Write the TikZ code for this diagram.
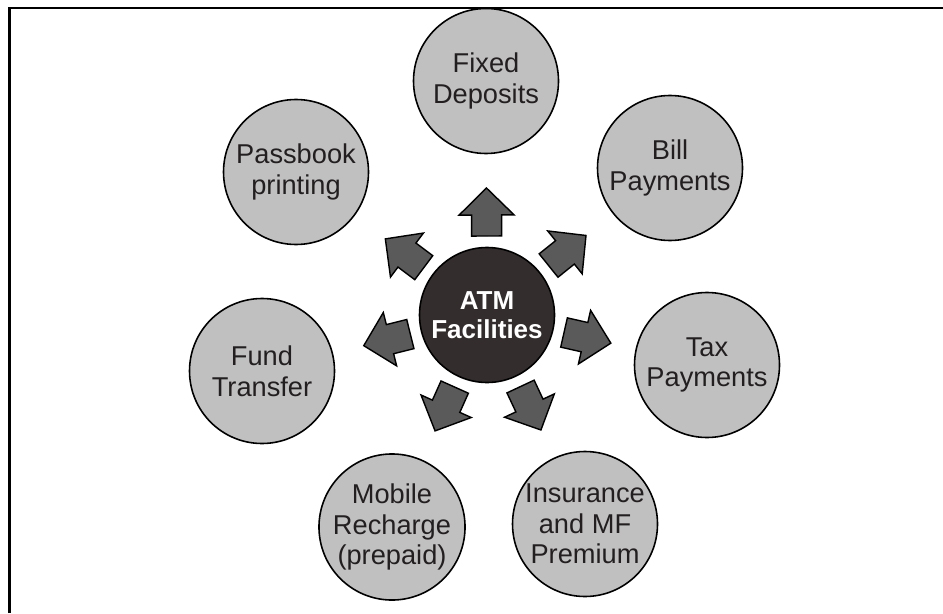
\documentclass[tikz,border=0pt]{standalone}
\usepackage{fontspec}
\setmainfont{Liberation Sans}
\usepackage{xcolor}
\usetikzlibrary{calc}
\definecolor{facilitygray}{HTML}{C0C0C0}
\definecolor{hubgray}{HTML}{332E2D}
\definecolor{pointergray}{HTML}{5A5A5A}
\definecolor{inkgray}{HTML}{231F20}
\tikzset{>=latex}
\tikzset{
  facility/.style={circle,draw=black,line width=0.9pt,fill=facilitygray,minimum size=2.9cm,inner sep=0pt,align=center,text=inkgray,font=\fontsize{15.5}{17.5}\selectfont},
  hub/.style={circle,draw=black,line width=0.9pt,fill=hubgray,minimum size=2.7cm,inner sep=0pt,align=center,text=white,font=\fontsize{14.8}{16.5}\selectfont\bfseries},
  pointer/.style={draw=black,line width=0.8pt,fill=pointergray,line join=miter},
  pics/blockarrow/.style={code={
    \draw[pointer] (0,-0.3) -- (0.42,-0.3) -- (0.42,-0.55) -- (0.96,0)
      -- (0.42,0.55) -- (0.42,0.3) -- (0,0.3) -- cycle;
  }}
}

\begin{document}
\begin{tikzpicture}
  \useasboundingbox (0,0) rectangle (18.86,12.26);

  % Frame
  \draw[line width=1.2pt] (0.19,0) -- (0.19,12.10) -- (3.76,12.10);
  \draw[line width=0.6pt] (3.76,12.10) -- (15.6,12.10);
  \draw[line width=1.2pt] (15.6,12.10) -- (18.86,12.10);

  % Hub
  \node[hub] (atm) at (9.74,5.96) {ATM\\Facilities};

  % Facilities
  \node[facility] (fd) at (9.72,10.64) {Fixed\\Deposits};
  \node[facility] (bp) at (13.40,8.90) {Bill\\Payments};
  \node[facility] (tp) at (14.14,4.96) {Tax\\Payments};
  \node[facility] (im) at (11.70,1.78) {Insurance\\and MF\\Premium};
  \node[facility] (mr) at (7.84,1.72) {Mobile\\Recharge\\(prepaid)};
  \node[facility] (ft) at (5.24,4.84) {Fund\\Transfer};
  \node[facility] (pp) at (5.92,8.82) {Passbook\\printing};

  % Block arrows
  \foreach \c in {fd,bp,tp,im,mr,ft,pp}
    \path let \p1=($(\c)-(atm)$), \n1={atan2(\y1,\x1)} in
      pic[rotate=\n1] (arr-\c) at ($(atm)!1.58cm!(\c)$) {blockarrow};

\end{tikzpicture}
\end{document}
